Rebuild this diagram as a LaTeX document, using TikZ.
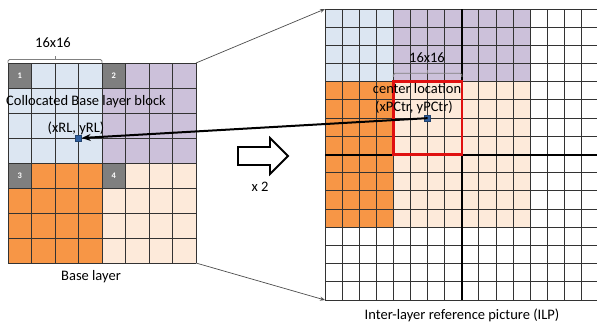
\documentclass[tikz,border=0pt]{standalone}
\usepackage{fontspec}
\setmainfont{Carlito}
\usetikzlibrary{arrows.meta}
\definecolor{blk1}{HTML}{DCE6F2}
\definecolor{blk2}{HTML}{CCC1DA}
\definecolor{blk3}{HTML}{F79646}
\definecolor{blk4}{HTML}{FDEADA}
\definecolor{numcell}{HTML}{7F7F7F}
\definecolor{gridline}{HTML}{333333}
\definecolor{boxred}{HTML}{E01010}
\definecolor{dotblue}{HTML}{2F5F9F}
\tikzset{
  gridlines/.style={draw=gridline, line width=1pt},
  lbl/.style={font=\fontsize{14.5}{16}\selectfont, inner sep=0pt},
  numlbl/.style={font=\fontsize{8.5}{9}\selectfont\bfseries, text=white, inner sep=0pt},
  dotmark/.style={fill=dotblue, draw=dotblue!70!black, minimum size=6pt, inner sep=0pt, rectangle},
  bracket/.style={draw=gray, line width=0.9pt, rounded corners=1.5pt},
  zoomline/.style={draw=gray!60!black, line width=0.7pt, -{Stealth[length=5pt,width=4pt]}},
}
\begin{document}
\begin{tikzpicture}[x=1pt,y=-1pt]
\useasboundingbox (0,0) rectangle (597,325);
\begin{scope}
\clip (0,0) rectangle (597,325);

% ---------------- Base layer: 8x8 grid of four 4x4 blocks ----------------
\def\bx{8}\def\by{63}\def\bw{23.5}\def\bh{25}
\fill[blk1] (\bx,\by) rectangle ++(4*\bw,4*\bh);
\fill[blk2] (\bx+4*\bw,\by) rectangle ++(4*\bw,4*\bh);
\fill[blk3] (\bx,\by+4*\bh) rectangle ++(4*\bw,4*\bh);
\fill[blk4] (\bx+4*\bw,\by+4*\bh) rectangle ++(4*\bw,4*\bh);
\foreach \i/\j/\n in {0/0/1, 4/0/2, 0/4/3, 4/4/4}{
  \fill[numcell] (\bx+\i*\bw,\by+\j*\bh) rectangle ++(\bw,\bh);
  \node[numlbl] (num\n) at (\bx+\i*\bw+0.5*\bw,\by+\j*\bh+0.5*\bh) {\n};
}
\foreach \k in {0,...,8}{
  \draw[gridlines] (\bx+\k*\bw,\by) -- (\bx+\k*\bw,\by+8*\bh);
  \draw[gridlines] (\bx,\by+\k*\bh) -- (\bx+8*\bw,\by+\k*\bh);
}
\coordinate (btr) at (\bx+8*\bw,\by);
\coordinate (bbr) at (\bx+8*\bw,\by+8*\bh);

% block size bracket
\draw[bracket] (\bx,\by) -- (\bx,\by-3.5) -- (\bx+4*\bw,\by-3.5) -- (\bx+4*\bw,\by);
\draw[bracket] (\bx+2*\bw,\by-3.5) -- (\bx+2*\bw,\by-7);
\node[lbl] (bsize) at (53,43) {16x16};

\node[lbl, anchor=west] (colloc) at (6,102) {Collocated Base layer block};
\node[lbl] (xrl) at (76,128) {(xRL, yRL)};
\node[lbl] (blayer) at (91,277) {Base layer};
\node[dotmark] (pbase) at (\bx+3*\bw,\by+3*\bh) {};

% ---------------- Inter-layer reference picture: 16x16 grid ----------------
\def\ix{325}\def\iy{9}\def\iw{17.1}\def\ih{18.19}
\fill[blk1] (\ix,\iy) rectangle ++(4*\iw,4*\ih);
\fill[blk2] (\ix+4*\iw,\iy) rectangle ++(8*\iw,4*\ih);
\fill[blk3] (\ix,\iy+4*\ih) rectangle ++(4*\iw,8*\ih);
\fill[blk4] (\ix+4*\iw,\iy+4*\ih) rectangle ++(8*\iw,8*\ih);
\foreach \k in {0,...,16}{
  \draw[gridlines] (\ix+\k*\iw,\iy) -- (\ix+\k*\iw,\iy+16*\ih);
  \draw[gridlines] (\ix,\iy+\k*\ih) -- (\ix+16*\iw,\iy+\k*\ih);
}
% centre axes
\draw[black, line width=2pt] (\ix+8*\iw,\iy) -- (\ix+8*\iw,\iy+16*\ih);
\draw[black, line width=2pt] (\ix,\iy+8*\ih) -- (\ix+16*\iw,\iy+8*\ih);
% upsampled block
\draw[boxred, line width=2.6pt] (\ix+4*\iw,\iy+4*\ih) rectangle (\ix+8*\iw,\iy+8*\ih);
\coordinate (itl) at (\ix,\iy);
\coordinate (ibl) at (\ix,\iy+16*\ih);

\draw[bracket] (\ix+4*\iw,\iy+4*\ih-5) -- (\ix+4*\iw,\iy+4*\ih-8.5) -- (\ix+8*\iw,\iy+4*\ih-8.5) -- (\ix+8*\iw,\iy+4*\ih-5);
\draw[bracket] (\ix+6*\iw,\iy+4*\ih-8.5) -- (\ix+6*\iw,\iy+4*\ih-12);
\node[lbl] (isize) at (427,58) {16x16};
\node[lbl] (cloc) at (417,89) {center location};
\node[lbl] (xpc) at (414,107) {(xPCtr, yPCtr)};
\node[lbl] (ilp) at (462,315) {Inter-layer reference picture (ILP)};
\node[dotmark] (pctr) at (\ix+6*\iw,\iy+6*\ih) {};
\end{scope}

% ---------------- connectors ----------------
\draw[zoomline] (btr) -- (itl);
\draw[zoomline] (bbr) -- (ibl);
\draw[black, line width=2pt, -{Stealth[length=9pt,width=7pt]}] (pctr.center) -- (pbase.east);

% upsampling arrow
\draw[black, line width=1.8pt, fill=white, line join=miter]
  (238,147) -- (270,147) -- (270,138) -- (288,156) -- (270,174) -- (270,165) -- (238,165) -- cycle;
\node[lbl] (scale) at (260,187) {x 2};
\end{tikzpicture}
\end{document}
